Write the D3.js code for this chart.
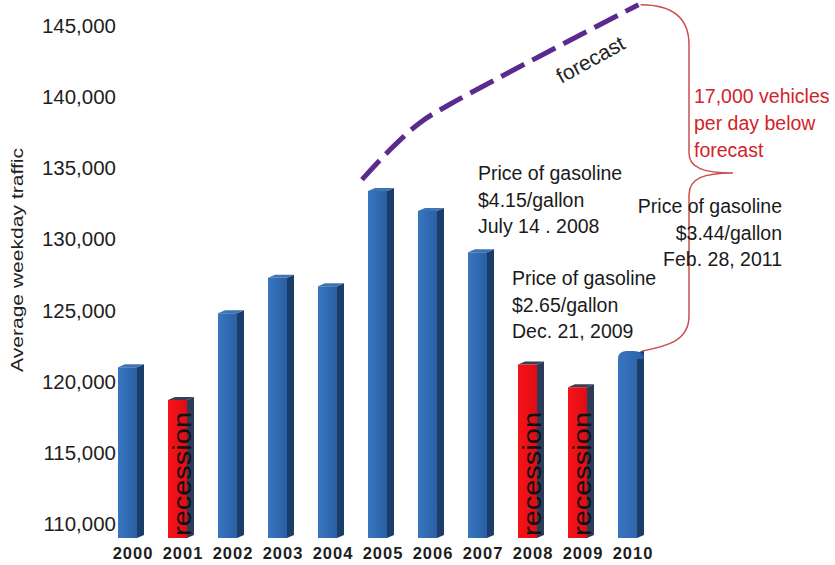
<!DOCTYPE html>
<html>
<head>
<meta charset="utf-8">
<script src="https://cdn.jsdelivr.net/npm/d3@7/dist/d3.min.js"></script>
<style>
  html, body { margin: 0; padding: 0; background: #fff; }
  svg { display: block; font-family: "Liberation Sans", Arial, sans-serif; }
</style>
</head>
<body>
<div id="chart"></div>
<script>
// Average weekday traffic by year
const years = [2000, 2001, 2002, 2003, 2004, 2005, 2006, 2007, 2008, 2009, 2010];
const traffic = [121000, 118700, 124800, 127300, 126700, 133400, 132000, 129100, 121200, 119600, 122000];
const recessionYears = [2001, 2008, 2009];
const yTicks = [110000, 115000, 120000, 125000, 130000, 135000, 140000, 145000];

// forecast curve
const forecastYears = [2004.62, 2005.18, 2005.78, 2006.38, 2010.15];
const forecastValues = [134200, 136300, 138200, 139500, 146500];

const gasNotes = [
    { lines: ['Price of gasoline', '$4.15/gallon', 'July 14 . 2008'], x: 478, y: 180, anchor: 'start' },
    { lines: ['Price of gasoline', '$3.44/gallon', 'Feb. 28, 2011'], x: 782, y: 213, anchor: 'end' },
    { lines: ['Price of gasoline', '$2.65/gallon', 'Dec. 21, 2009'], x: 512, y: 285, anchor: 'start' },
];
const gapNote = ['17,000 vehicles', 'per day below', 'forecast'];

const width = 835, height = 565;
const baseY = 538;
const depthX = 7, depthY = 3;

const svg = d3.select('#chart').append('svg')
    .attr('width', width)
    .attr('height', height);

const x = d3.scaleBand().domain(years).range([102.5, 652.5]).paddingInner(0.62).paddingOuter(0.31);
const y = d3.scaleLinear().domain([109000, 145000]).range([baseY, 26]);
const bw = x.bandwidth();
const xYear = d3.scaleLinear()
    .domain([2000, 2010])
    .range([x(2000) + (bw + depthX) / 2, x(2010) + (bw + depthX) / 2]);

// gradients for bar faces
const defs = svg.append('defs');
function grad(id, c1, c2) {
    const g = defs.append('linearGradient').attr('id', id).attr('x1', 0).attr('x2', 1).attr('y1', 0).attr('y2', 0);
    g.append('stop').attr('offset', '0%').attr('stop-color', c1);
    g.append('stop').attr('offset', '100%').attr('stop-color', c2);
}
grad('blueFront', '#3876c0', '#2a5fa4');
grad('redFront', '#f5141a', '#e00c12');

// Y axis
const yAxis = svg.append('g')
    .attr('transform', 'translate(118,0)')
    .call(d3.axisLeft(y).tickValues(yTicks).tickFormat(d3.format(',')).tickSize(0).tickPadding(2));
yAxis.select('.domain').remove();
yAxis.selectAll('text')
    .attr('fill', '#1e1e1e')
    .style('font-size', '20.5px')
    .style('font-family', '"Liberation Sans", Arial, sans-serif');

svg.append('text')
    .attr('transform', 'translate(23,260) rotate(-90)')
    .attr('text-anchor', 'middle')
    .attr('fill', '#222')
    .attr('textLength', 224)
    .attr('lengthAdjust', 'spacingAndGlyphs')
    .style('font-size', '16px')
    .text('Average weekday traffic');

// bars
const data = years.map((yr, i) => ({ year: yr, value: traffic[i], rec: recessionYears.includes(yr) }));

const bars = svg.selectAll('.bar').data(data).enter().append('g').attr('class', 'bar');

// side face
bars.append('path')
    .attr('d', d => {
        const x0 = x(d.year) + bw, t = y(d.value);
        return `M${x0},${t} L${x0 + depthX},${t - depthY} L${x0 + depthX},${baseY - depthY} L${x0},${baseY} Z`;
    })
    .attr('fill', d => d.rec ? '#2c3b58' : '#1b3d6a');

// top face
bars.filter(d => d.year !== 2010).append('path')
    .attr('d', d => {
        const x0 = x(d.year), t = y(d.value);
        return `M${x0},${t} L${x0 + bw},${t} L${x0 + bw + depthX},${t - depthY} L${x0 + depthX},${t - depthY} Z`;
    })
    .attr('fill', d => d.rec ? '#3a3f55' : '#3f74b3');

// front face
bars.append('path')
    .attr('d', d => {
        const x0 = x(d.year), t = y(d.value);
        if (d.year === 2010) {
            return `M${x0},${baseY} L${x0},${t + 5} Q${x0},${t - 1} ${x0 + 8},${t - 2} L${x0 + bw - 4},${t - 2} Q${x0 + bw + depthX},${t - 2} ${x0 + bw + depthX},${t + 6} L${x0 + bw},${t + 6} L${x0 + bw},${baseY} Z`;
        }
        return `M${x0},${t} L${x0 + bw},${t} L${x0 + bw},${baseY} L${x0},${baseY} Z`;
    })
    .attr('fill', d => d.rec ? 'url(#redFront)' : 'url(#blueFront)');

// recession labels
bars.filter(d => d.rec).append('text')
    .attr('transform', d => `translate(${x(d.year) + bw + 4},${baseY - 2}) rotate(-90)`)
    .attr('text-anchor', 'start')
    .attr('fill', '#111')
    .attr('textLength', 124)
    .attr('lengthAdjust', 'spacingAndGlyphs')
    .style('font-size', '26px')
    .text('recession');

// X axis
const xAxis = svg.append('g')
    .attr('transform', `translate(${depthX / 2 + 2},${baseY})`)
    .call(d3.axisBottom(x).tickSize(0).tickPadding(9));
xAxis.select('.domain').remove();
xAxis.selectAll('text')
    .attr('fill', '#1e1e1e')
    .style('font-size', '16.5px')
    .style('font-weight', 'bold')
    .style('letter-spacing', '1px')
    .style('font-family', '"Liberation Sans", Arial, sans-serif');

// forecast line
const fc = forecastYears.map((yr, i) => [xYear(yr), y(forecastValues[i])]);
svg.append('path')
    .attr('d', d3.line().curve(d3.curveCatmullRom)(fc))
    .attr('fill', 'none')
    .attr('stroke', '#5a2a8f')
    .attr('stroke-width', 5)
    .attr('stroke-dasharray', '26,9');

svg.append('text')
    .attr('transform', 'translate(594,66) rotate(-29)')
    .attr('text-anchor', 'middle')
    .attr('fill', '#222')
    .style('font-size', '21px')
    .text('forecast');

// brace between forecast end and 2010 bar
const fcEnd = fc[fc.length - 1];
const barTop = [x(2010) + bw + depthX - 2, y(traffic[10]) - 2];
const bx = 689, tipX = 733, tipY = 173;
svg.append('path')
    .attr('d', `M${fcEnd[0] + 2},${fcEnd[1]} C${fcEnd[0] + 30},${fcEnd[1]} ${bx},${fcEnd[1] + 10} ${bx},${fcEnd[1] + 40}
        L${bx},${tipY - 20} C${bx},${tipY - 5} ${bx + 15},${tipY} ${tipX},${tipY}
        C${bx + 15},${tipY} ${bx},${tipY + 5} ${bx},${tipY + 22}
        L${bx},${barTop[1] - 35} C${bx},${barTop[1] - 10} ${barTop[0] + 25},${barTop[1] - 5} ${barTop[0]},${barTop[1]}`)
    .attr('fill', 'none')
    .attr('stroke', '#c9504e')
    .attr('stroke-width', 1.5);

svg.append('g').selectAll('text').data(gapNote).enter().append('text')
    .attr('x', 694)
    .attr('y', (d, i) => 103 + i * 27)
    .attr('fill', '#d2232a')
    .style('font-size', '19.5px')
    .text(d => d);

// gasoline price notes
gasNotes.forEach(n => {
    svg.append('g').selectAll('text').data(n.lines).enter().append('text')
        .attr('x', n.x)
        .attr('y', (d, i) => n.y + i * 26.5)
        .attr('text-anchor', n.anchor)
        .attr('fill', '#1a1a1a')
        .style('font-size', '19.5px')
        .text(d => d);
});
</script>
</body>
</html>
